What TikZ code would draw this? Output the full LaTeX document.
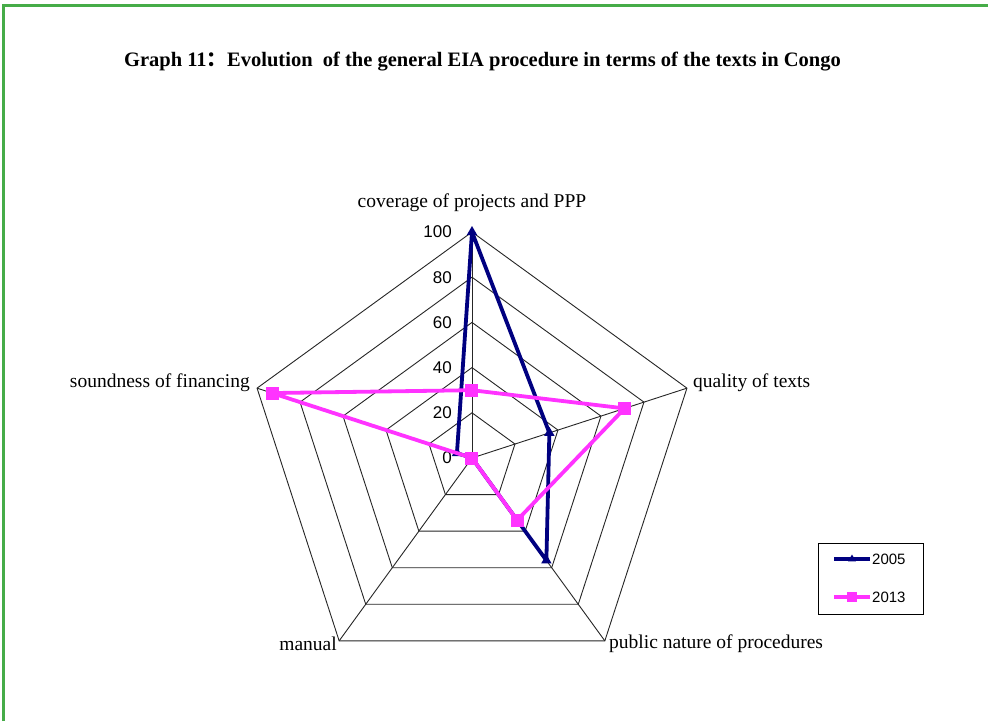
\documentclass[tikz,border=0pt]{standalone}
\usepackage{fontspec}
\setmainfont{Liberation Serif}
\newfontfamily\numfont{Liberation Sans}
\newfontfamily\cjk{Noto Sans CJK SC}
\usetikzlibrary{shapes.geometric,calc}
\definecolor{frameGreen}{RGB}{70,172,72}
\definecolor{seriesNavy}{RGB}{0,0,128}
\definecolor{seriesPink}{RGB}{255,51,255}
\tikzset{
  ring/.style={draw=black!85, line width=0.9pt},
  spoke/.style={draw=black!85, line width=0.9pt},
  axislabel/.style={font=\fontsize{19.5}{22}\selectfont, inner sep=0pt},
  ticklabel/.style={font=\numfont\fontsize{17}{19}\selectfont, anchor=east, inner sep=0pt},
  navyline/.style={draw=seriesNavy, line width=3.8pt, line join=round},
  pinkline/.style={draw=seriesPink, line width=3.8pt, line join=round},
  navymark/.style={regular polygon, regular polygon sides=3, fill=seriesNavy, inner sep=0pt, minimum size=12pt},
  pinkmark/.style={rectangle, fill=seriesPink, inner sep=0pt, minimum size=13pt},
  legendtext/.style={font=\numfont\fontsize{15}{17}\selectfont, anchor=west, inner sep=0pt},
}
\newcommand{\unitR}{2.26}
\begin{document}
\begin{tikzpicture}[x=1pt,y=1pt]
\useasboundingbox (-472,-263) rectangle (516,458);
\fill[white] (-472,-263) rectangle (516,458);

% frame
\draw[frameGreen, line width=3pt] (-468,-263) -- (-468,452.2) -- (516,452.2);

% title
\node[font=\bfseries\fontsize{20.5}{24}\selectfont, inner sep=0pt] (title) at (10.5,396)
  {Graph 11{\cjk ：}Evolution\ \ of the general EIA procedure in terms of the texts in Congo};

% grid rings and spokes
\coordinate (C) at (0,0);
\foreach \v in {20,40,60,80,100}{
  \draw[ring] (90:\v*\unitR) -- (18:\v*\unitR) -- (-54:\v*\unitR) -- (-126:\v*\unitR) -- (162:\v*\unitR) -- cycle;
}
\foreach \a/\n in {90/ax1,18/ax2,-54/ax3,-126/ax4,162/ax5}{
  \coordinate (\n) at (\a:100*\unitR);
  \draw[spoke] (C) -- (\n);
}

% tick labels
\foreach \v in {0,20,40,60,80,100}{
  \node[ticklabel] (t\v) at (-20,\v*\unitR) {\v};
}

% axis labels
\node[axislabel, anchor=south] (l1) at (0,246) {coverage of projects and PPP};
\node[axislabel, anchor=west] (l2) at (221,75) {quality of texts};
\node[axislabel, anchor=west] (l3) at (137,-186) {public nature of procedures};
\node[axislabel, anchor=east] (l4) at (-135,-186) {manual};
\node[axislabel, anchor=east] (l5) at (-222,75) {soundness of financing};

% series 2005
\coordinate (a1) at (90:100*\unitR);
\coordinate (a2) at (18:36*\unitR);
\coordinate (a3) at (-54:56*\unitR);
\coordinate (a4) at (-126:0);
\coordinate (a5) at (162:7*\unitR);
\draw[navyline] (a1) -- (a2) -- (a3) -- (a4) -- (a5) -- cycle;
\foreach \p in {a1,a2,a3,a4,a5}{ \node[navymark] at (\p) {}; }

% series 2013
\coordinate (b1) at (90:30*\unitR);
\coordinate (b2) at (18:71*\unitR);
\coordinate (b3) at (-54:34*\unitR);
\coordinate (b4) at (-126:0);
\coordinate (b5) at (162:93*\unitR);
\draw[pinkline] (b1) -- (b2) -- (b3) -- (b4) -- (b5) -- cycle;
\foreach \p in {b1,b2,b3,b4,b5}{ \node[pinkmark] at (\p) {}; }

% legend
\node[draw=black, line width=1pt, minimum width=105pt, minimum height=71pt, inner sep=0pt] (legend) at (398.5,-120.5) {};
\coordinate (k1s) at (362,-101);
\coordinate (k1e) at (398,-101);
\draw[navyline] (k1s) -- (k1e);
\node[navymark, minimum size=9pt] (k1m) at ($(k1s)!0.5!(k1e)$) {};
\node[legendtext] (k1t) at (400,-101) {2005};
\coordinate (k2s) at (362,-139);
\coordinate (k2e) at (398,-139);
\draw[pinkline] (k2s) -- (k2e);
\node[pinkmark, minimum size=10pt] (k2m) at ($(k2s)!0.5!(k2e)$) {};
\node[legendtext] (k2t) at (400,-139) {2013};
\end{tikzpicture}
\end{document}
